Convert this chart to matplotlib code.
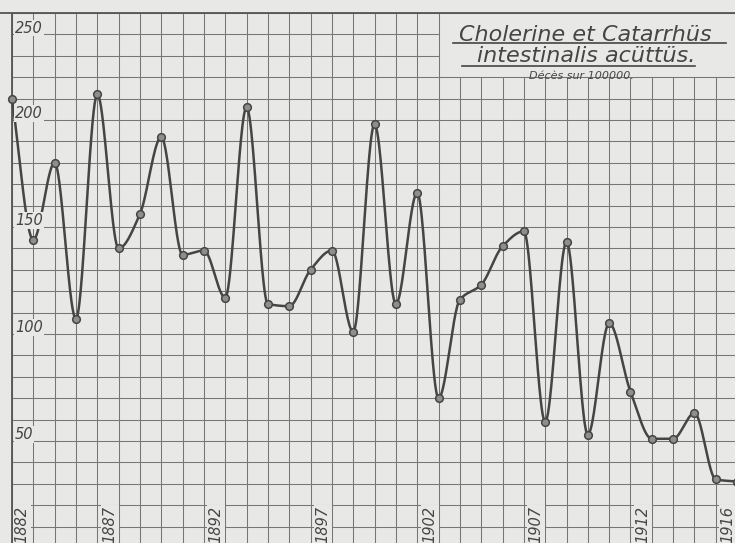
import numpy as np
import matplotlib
matplotlib.use("Agg")
import matplotlib.pyplot as plt

# Décès sur 100000 - Cholerine et Catarrhus intestinalis acutus
annees = list(range(1882, 1917))
deces = [210, 144, 180, 107, 212, 140, 156, 192, 137, 139, 117, 206,
         114, 113, 130, 139, 101, 198, 114, 166, 70, 116, 123, 141,
         148, 59, 143, 53, 105, 73, 51, 51, 63, 32, 31]

annees_etiquettes = [1882, 1887, 1892, 1897, 1902, 1907, 1912, 1916]
valeurs_etiquettes = [50, 100, 150, 200, 250]

titre1 = "Cholerine et Catarrhüs"
titre2 = "intestinalis acüttüs."
titre3 = "Décès sur 100000."

fond = "#e8e8e6"
grille = "#767676"
encre = "#454545"


def pchip(x, y, xn):
    x = np.asarray(x, float)
    y = np.asarray(y, float)
    h = np.diff(x)
    delta = np.diff(y) / h
    d = np.zeros_like(y)
    for k in range(1, len(x) - 1):
        if delta[k - 1] * delta[k] > 0:
            w1 = 2 * h[k] + h[k - 1]
            w2 = h[k] + 2 * h[k - 1]
            d[k] = (w1 + w2) / (w1 / delta[k - 1] + w2 / delta[k])
    d[0] = delta[0]
    d[-1] = delta[-1]
    idx = np.clip(np.searchsorted(x, xn) - 1, 0, len(x) - 2)
    t = (xn - x[idx]) / h[idx]
    h00 = 2 * t**3 - 3 * t**2 + 1
    h10 = t**3 - 2 * t**2 + t
    h01 = -2 * t**3 + 3 * t**2
    h11 = t**3 - t**2
    return (h00 * y[idx] + h10 * h[idx] * d[idx]
            + h01 * y[idx + 1] + h11 * h[idx] * d[idx + 1])


fig = plt.figure(figsize=(7.35, 5.43), dpi=100, facecolor=fond)
ax = fig.add_axes([0, 0, 1, 1], facecolor=fond)
ax.set_xlim(1881.44, 1915.9)
ax.set_ylim(2.3, 256.1)
ax.axis("off")

# grille (la zone du titre reste vide)
for a in annees:
    haut = 250 if a <= 1902 else 220
    ax.vlines(a, 0, haut, color=grille, lw=0.75, zorder=1)
for v in range(10, 251, 10):
    fin = 1902 if v in (230, 240) else 1920
    ax.hlines(v, 1882, fin, color=grille, lw=0.75, zorder=1)
ax.hlines(250, 1870, 1920, color="#555555", lw=1.3, zorder=1)
ax.vlines(1882, 0, 250, color="#555555", lw=1.3, zorder=1)

# courbe lissée
xs = np.linspace(annees[0], annees[-1], 1500)
ax.plot(xs, pchip(annees, deces, xs), color=encre, lw=1.8, zorder=3)
ax.plot(annees, deces, "o", ms=5.5, mfc="#8e8e8e", mec=encre, mew=1.1, zorder=4)

# étiquettes des valeurs
for v in valeurs_etiquettes:
    yv = v - 7 if v == 250 else v + 3
    ax.text(1882.15, yv, str(v), fontsize=10.5, style="italic",
            family="DejaVu Sans", color=encre, va="center", ha="left",
            zorder=5, bbox=dict(boxstyle="square,pad=0.05", fc=fond, ec="none"))

# étiquettes des années
for a in annees_etiquettes:
    xa = a + 0.47 if a == 1882 else a - 0.42
    ax.text(xa, 2.3, str(a), fontsize=10.5, style="italic", rotation=90,
            family="DejaVu Sans", color=encre, va="bottom", ha="center",
            zorder=5, bbox=dict(boxstyle="square,pad=0.1", fc=fond, ec="none"))

# titre
ax.text(0.797, 0.886, titre1 + "\n" + titre2, transform=ax.transAxes,
        fontsize=16, linespacing=1.04, multialignment="center",
        style="italic", family="DejaVu Sans", color=encre, ha="center", va="baseline")
ax.plot([0.616, 0.988], [0.921, 0.921], transform=ax.transAxes, color=encre, lw=1.2)
ax.plot([0.628, 0.946], [0.879, 0.879], transform=ax.transAxes, color=encre, lw=1.2)
ax.text(0.791, 0.855, titre3, transform=ax.transAxes, fontsize=8,
        style="italic", family="DejaVu Sans", color=encre, ha="center", va="baseline")

fig.savefig("out.png", dpi=100, facecolor=fond)
